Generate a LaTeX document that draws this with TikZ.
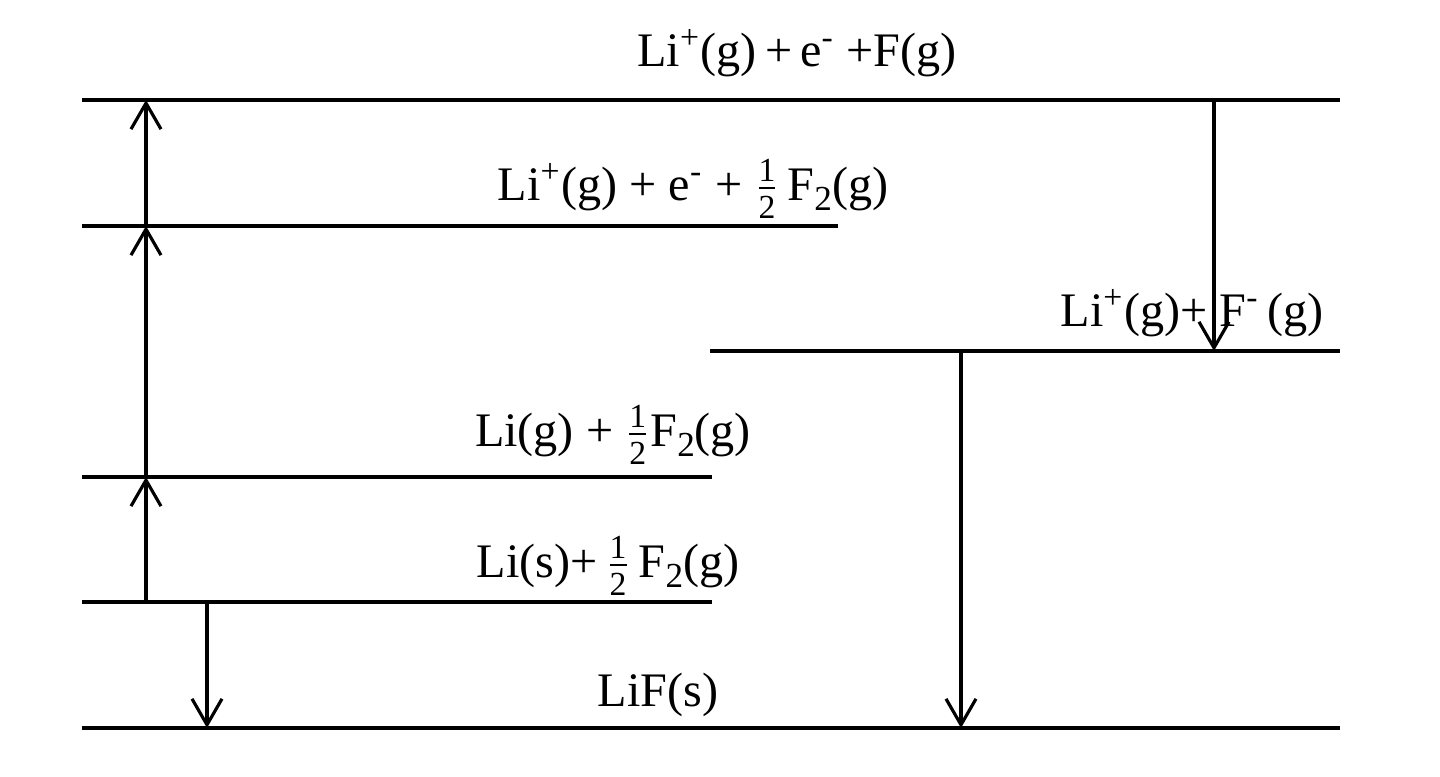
\documentclass[tikz,border=0pt]{standalone}
\usepackage{amsmath}
\usepackage{fontspec}
\setmainfont{Liberation Serif}
\usetikzlibrary{arrows.meta,calc,positioning}
\newcommand{\half}{\ensuremath{\tfrac{\text{1}}{\text{2}}}}
\newcommand{\subtwo}{\raisebox{-0.45ex}{\fontsize{10}{10}\selectfont 2}}

\begin{document}
\begin{tikzpicture}
		\tikzstyle{every node}=[font=\fontsize{13.7}{16}\selectfont, inner sep=0pt, anchor=base]
		\tikzstyle{level}=[line width=0.9pt]
		\tikzstyle{hess}=[line width=0.9pt, ->, >={Straight Barb[length=2.6mm,width=3mm]}]
		\useasboundingbox (0,0) rectangle (14.4,7.77);
		% energy levels
		\draw [level] (0.82,6.77) -- (13.40,6.77);
		\draw [level] (0.82,5.51) -- (8.38,5.51);
		\draw [level] (7.10,4.26) -- (13.40,4.26);
		\draw [level] (0.82,3.00) -- (7.12,3.00);
		\draw [level] (0.82,1.75) -- (7.12,1.75);
		\draw [level] (0.82,0.49) -- (13.40,0.49);
		% labels
		\node (ionF) at (7.97,7.10) {Li\textsuperscript{+}(g)\,+\,e\textsuperscript{-} +F(g)};
		\node (ionhalf) at (6.93,5.76) {Li\textsuperscript{+}(g) + e\textsuperscript{-} + \half\,F\subtwo(g)};
		\node (ions) at (11.92,4.50) {Li\textsuperscript{+}(g)+ F\textsuperscript{-}\,(g)};
		\node (gas) at (6.13,3.30) {Li(g) + \half F\subtwo(g)};
		\node (solid) at (6.08,1.99) {Li(s)+\,\half\,F\subtwo(g)};
		\node (lif) at (6.58,0.70) {LiF(s)};
		% arrow ends
		\coordinate (sub0) at (1.46,1.75);
		\coordinate (sub1) at (1.46,3.00);
		\coordinate (ie1) at (1.46,5.51);
		\coordinate (at1) at (1.46,6.77);
		\coordinate (hf0) at (2.07,1.75);
		\coordinate (hf1) at (2.07,0.49);
		\coordinate (ea0) at (12.14,6.77);
		\coordinate (ea1) at (12.14,4.26);
		\coordinate (lat0) at (9.61,4.26);
		\coordinate (lat1) at (9.61,0.49);
		\draw [hess] (sub0) -- (sub1);
		\draw [hess] (sub1) -- (ie1);
		\draw [hess] (ie1) -- (at1);
		\draw [hess] (hf0) -- (hf1);
		\draw [hess] (ea0) -- (ea1);
		\draw [hess] (lat0) -- (lat1);
\end{tikzpicture}
\end{document}
